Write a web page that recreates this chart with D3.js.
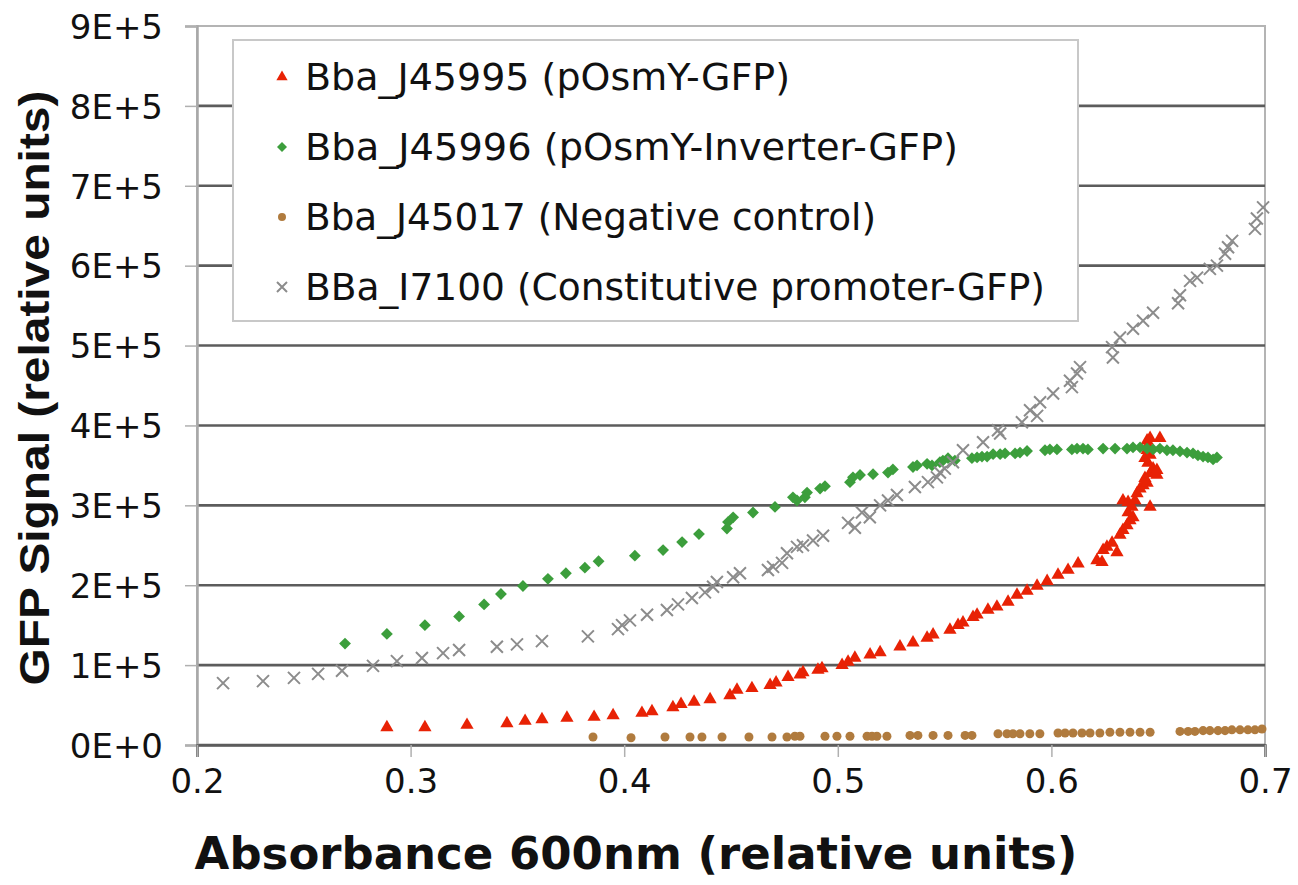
<!DOCTYPE html>
<html><head><meta charset="utf-8">
<script src="https://cdn.jsdelivr.net/npm/d3@7"></script>
<style>body{margin:0;background:#fff}svg{display:block}</style>
</head><body>
<svg id="chart" width="1298" height="885"></svg>
<script>
// ---------- data ----------
const xTickValues = [0.2, 0.3, 0.4, 0.5, 0.6, 0.7];
const xTickLabels = ["0.2", "0.3", "0.4", "0.5", "0.6", "0.7"];
const yTickValues = [0, 1e5, 2e5, 3e5, 4e5, 5e5, 6e5, 7e5, 8e5, 9e5];
const yTickLabels = ["0E+0", "1E+5", "2E+5", "3E+5", "4E+5", "5E+5", "6E+5", "7E+5", "8E+5", "9E+5"];
const xTitle = "Absorbance 600nm (relative units)";
const yTitle = "GFP Signal (relative units)";
const seriesNames = [
  "Bba_J45995 (pOsmY-GFP)",
  "Bba_J45996 (pOsmY-Inverter-GFP)",
  "Bba_J45017 (Negative control)",
  "BBa_I7100 (Constitutive promoter-GFP)"
];

// [absorbance, GFP signal (×1E+5)]
const j45995 = [
  [0.2889,0.22],[0.3067,0.22],[0.3264,0.25],[0.3451,0.27],[0.3536,0.30],[0.3615,0.32],
  [0.3732,0.34],[0.3859,0.35],[0.3948,0.37],[0.4083,0.40],[0.4130,0.42],[0.4228,0.47],
  [0.4266,0.51],[0.4327,0.54],[0.4402,0.57],[0.4495,0.62],[0.4528,0.69],[0.4598,0.71],
  [0.4683,0.75],[0.4711,0.78],[0.4767,0.85],[0.4823,0.88],[0.4837,0.91],[0.4907,0.94],
  [0.4926,0.96],[0.5020,1.00],[0.5048,1.04],[0.5080,1.09],[0.5151,1.13],[0.5198,1.16],
  [0.5291,1.23],[0.5352,1.28],[0.5418,1.34],[0.5446,1.38],[0.5525,1.44],[0.5563,1.50],
  [0.5586,1.53],[0.5633,1.60],[0.5652,1.63],[0.5703,1.69],[0.5745,1.73],[0.5797,1.79],
  [0.5839,1.88],[0.5886,1.93],[0.5933,1.99],[0.5980,2.05],[0.6031,2.13],[0.6078,2.19],
  [0.6125,2.27],[0.6213,2.31],[0.6237,2.29],[0.6242,2.44],[0.6260,2.48],[0.6284,2.53],
  [0.6307,2.41],[0.6321,2.63],[0.6335,2.69],[0.6354,2.75],[0.6368,2.81],[0.6382,2.85],
  [0.6359,2.91],[0.6377,2.98],[0.6335,3.06],[0.6359,3.04],[0.6391,3.06],[0.6401,3.15],
  [0.6415,3.21],[0.6429,3.25],[0.6448,3.28],[0.6462,2.98],[0.6438,3.34],[0.6462,3.40],
  [0.6494,3.38],[0.6476,3.46],[0.6452,3.53],[0.6438,3.59],[0.6462,3.63],[0.6448,3.69],
  [0.6452,3.75],[0.6448,3.81],[0.6508,3.84],[0.6462,3.84],[0.6494,3.44]
];
const j45996 = [
  [0.2693,1.27],[0.2889,1.39],[0.3067,1.50],[0.3227,1.61],[0.3344,1.76],[0.3423,1.89],
  [0.3526,1.99],[0.3643,2.08],[0.3727,2.15],[0.3816,2.22],[0.3880,2.30],[0.4050,2.37],
  [0.4182,2.44],[0.4271,2.54],[0.4350,2.64],[0.4481,2.71],[0.4486,2.79],[0.4510,2.85],
  [0.4603,2.91],[0.4706,2.98],[0.4790,3.10],[0.4809,3.06],[0.4846,3.10],[0.4856,3.16],
  [0.4917,3.21],[0.4940,3.24],[0.5057,3.29],[0.5071,3.35],[0.5104,3.38],[0.5165,3.39],
  [0.5235,3.41],[0.5258,3.45],[0.5352,3.48],[0.5371,3.50],[0.5418,3.52],[0.5441,3.50],
  [0.5478,3.54],[0.5492,3.56],[0.5516,3.59],[0.5548,3.56],[0.5628,3.59],[0.5652,3.60],
  [0.5675,3.61],[0.5699,3.61],[0.5727,3.64],[0.5760,3.64],[0.5783,3.65],[0.5830,3.65],
  [0.5853,3.66],[0.5886,3.68],[0.5970,3.69],[0.5993,3.70],[0.6026,3.70],[0.6096,3.70],
  [0.6120,3.71],[0.6148,3.71],[0.6171,3.70],[0.6242,3.71],[0.6298,3.71],[0.6354,3.71],
  [0.6382,3.725],[0.6415,3.725],[0.6448,3.71],[0.6476,3.70],[0.6508,3.71],[0.6541,3.69],
  [0.6569,3.69],[0.6602,3.675],[0.6635,3.66],[0.6663,3.65],[0.6686,3.625],[0.6710,3.61],
  [0.6733,3.60],[0.6757,3.575],[0.6775,3.60]
];
const j45017 = [
  [0.3854,0.10],[0.4032,0.09],[0.4191,0.10],[0.4308,0.10],[0.4364,0.10],[0.4458,0.10],
  [0.4584,0.10],[0.4692,0.10],[0.4762,0.10],[0.4799,0.11],[0.4823,0.11],[0.4940,0.11],
  [0.4996,0.11],[0.5057,0.11],[0.5137,0.11],[0.5160,0.11],[0.5183,0.11],[0.5230,0.11],
  [0.5338,0.12],[0.5375,0.12],[0.5446,0.12],[0.5516,0.12],[0.5596,0.12],[0.5628,0.12],
  [0.5750,0.14],[0.5792,0.14],[0.5820,0.14],[0.5853,0.14],[0.5899,0.14],[0.5946,0.14],
  [0.6031,0.15],[0.6064,0.15],[0.6101,0.15],[0.6143,0.15],[0.6181,0.15],[0.6227,0.15],
  [0.6274,0.16],[0.6321,0.16],[0.6368,0.16],[0.6415,0.16],[0.6462,0.16],[0.6602,0.17],
  [0.6640,0.17],[0.6672,0.17],[0.6710,0.18],[0.6742,0.18],[0.6780,0.18],[0.6813,0.18],
  [0.6845,0.19],[0.6883,0.19],[0.6920,0.19],[0.6953,0.19],[0.6986,0.20]
];
const i7100 = [
  [0.2122,0.775],[0.2309,0.80],[0.2454,0.84],[0.2567,0.89],[0.2679,0.93],[0.2824,0.99],
  [0.2936,1.05],[0.3053,1.09],[0.3152,1.15],[0.3227,1.19],[0.3404,1.23],[0.3498,1.26],
  [0.3615,1.30],[0.3830,1.36],[0.3971,1.45],[0.3990,1.50],[0.4027,1.56],[0.4107,1.63],
  [0.4200,1.69],[0.4252,1.76],[0.4317,1.84],[0.4378,1.91],[0.4416,1.98],[0.4434,2.04],
  [0.4510,2.10],[0.4542,2.15],[0.4673,2.19],[0.4697,2.23],[0.4739,2.28],[0.4762,2.40],
  [0.4809,2.48],[0.4837,2.50],[0.4884,2.56],[0.4931,2.62],[0.5048,2.78],[0.5080,2.72],
  [0.5113,2.91],[0.5150,2.85],[0.5198,3.00],[0.5235,3.06],[0.5277,3.13],[0.5361,3.23],
  [0.5422,3.29],[0.5464,3.35],[0.5478,3.41],[0.5501,3.46],[0.5539,3.54],[0.5586,3.69],
  [0.5680,3.79],[0.5750,3.94],[0.5760,3.90],[0.5862,4.04],[0.5900,4.19],[0.5933,4.12],
  [0.5947,4.29],[0.6008,4.40],[0.6087,4.56],[0.6096,4.48],[0.6120,4.65],[0.6134,4.73],
  [0.6284,4.98],[0.6288,4.85],[0.6321,5.10],[0.6382,5.21],[0.6429,5.31],[0.6476,5.41],
  [0.6593,5.53],[0.6602,5.63],[0.6649,5.81],[0.6682,5.85],[0.6742,5.96],[0.6775,6.00],
  [0.6813,6.15],[0.6827,6.23],[0.6846,6.31],[0.6953,6.46],[0.6962,6.59],[0.6991,6.73]
];
const seriesColors = ["#e82205", "#3c9e3c", "#b07b3e", "#8c8c8c"];

// ---------- chart ----------
const svg = d3.select("#chart");
const pLeft = 197, pRight = 1265, pTop = 26, pBottom = 745;
const x = d3.scaleLinear().domain([0.2, 0.7]).range([pLeft, pRight]);
const y = d3.scaleLinear().domain([0, 9e5]).range([pBottom, pTop]);
const Y = v => y(v * 1e5);

// border/frame
svg.append("rect").attr("x", pLeft).attr("y", pTop).attr("width", pRight - pLeft).attr("height", pBottom - pTop)
  .attr("fill", "#fff").attr("stroke", "#b4b4b4").attr("stroke-width", 2);

// horizontal gridlines
svg.append("g").selectAll("line").data(yTickValues.slice(0, -1)).join("line")
  .attr("x1", pLeft).attr("x2", pRight).attr("y1", d => y(d)).attr("y2", d => y(d))
  .attr("stroke", "#5c5c5c").attr("stroke-width", 2.6);

// y axis
const yAxis = d3.axisLeft(y).tickValues(yTickValues).tickFormat((d, i) => yTickLabels[i]).tickSize(12).tickPadding(22);
const gy = svg.append("g").attr("transform", `translate(${pLeft},0)`).call(yAxis);
gy.select(".domain").attr("stroke", "#a8a8a8").attr("stroke-width", 2.5);
gy.selectAll(".tick line").attr("stroke", "#b0b0b0").attr("stroke-width", 1.5);
gy.selectAll(".tick text").attr("font-family", "DejaVu Sans, Verdana, sans-serif").attr("font-size", 34)
  .attr("fill", "#111").attr("dy", "0.36em");

// x axis
const xAxis = d3.axisBottom(x).tickValues(xTickValues).tickFormat((d, i) => xTickLabels[i]).tickSize(12).tickPadding(12);
const gx = svg.append("g").attr("transform", `translate(0,${pBottom})`).call(xAxis);
gx.select(".domain").attr("stroke", "#5c5c5c").attr("stroke-width", 2.6);
gx.selectAll(".tick line").attr("stroke", "#b0b0b0").attr("stroke-width", 1.5);
gx.selectAll(".tick text").attr("font-family", "DejaVu Sans, Verdana, sans-serif").attr("font-size", 34)
  .attr("fill", "#111");

// markers
const tri = d3.symbol().type(d3.symbolTriangle).size(76);
const sq = d3.symbol().type(d3.symbolSquare).size(70);
const circ = d3.symbol().type(d3.symbolCircle).size(64);
const crossPath = "M-6,-6L6,6M-6,6L6,-6";

const gData = svg.append("g");
gData.append("g").selectAll("path").data(j45995).join("path")
  .attr("d", tri).attr("fill", seriesColors[0])
  .attr("transform", d => `translate(${x(d[0])},${Y(d[1])})`);
gData.append("g").selectAll("path").data(j45996).join("path")
  .attr("d", sq).attr("fill", seriesColors[1])
  .attr("transform", d => `translate(${x(d[0])},${Y(d[1])}) rotate(45)`);
gData.append("g").selectAll("path").data(j45017).join("path")
  .attr("d", circ).attr("fill", seriesColors[2])
  .attr("transform", d => `translate(${x(d[0])},${Y(d[1])})`);
gData.append("g").selectAll("path").data(i7100).join("path")
  .attr("d", crossPath).attr("stroke", seriesColors[3]).attr("stroke-width", 2).attr("fill", "none")
  .attr("transform", d => `translate(${x(d[0])},${Y(d[1])})`);

// legend
const lg = svg.append("g");
lg.append("rect").attr("x", 233).attr("y", 40).attr("width", 845).attr("height", 281)
  .attr("fill", "#fff").attr("stroke", "#c8c8c8").attr("stroke-width", 2);
const rowY = [77, 147, 217, 287];
const rowLen = [485, 653, 571, 740];
const legendMarks = [
  g => g.append("path").attr("d", d3.symbol().type(d3.symbolTriangle).size(55)).attr("fill", seriesColors[0]),
  g => g.append("path").attr("d", d3.symbol().type(d3.symbolSquare).size(50)).attr("fill", seriesColors[1]).attr("transform", "rotate(45)"),
  g => g.append("path").attr("d", d3.symbol().type(d3.symbolCircle).size(50)).attr("fill", seriesColors[2]),
  g => g.append("path").attr("d", "M-5,-5L5,5M-5,5L5,-5").attr("stroke", seriesColors[3]).attr("stroke-width", 2)
];
seriesNames.forEach((name, i) => {
  const g = lg.append("g").attr("transform", `translate(282,${rowY[i]})`);
  legendMarks[i](g);
  lg.append("text").attr("x", 305).attr("y", rowY[i] + 13).text(name)
    .attr("textLength", rowLen[i]).attr("lengthAdjust", "spacingAndGlyphs")
    .attr("font-family", "DejaVu Sans, Verdana, sans-serif").attr("font-size", 37.5).attr("fill", "#111");
});

// axis titles
svg.append("text").attr("x", 636).attr("y", 869).attr("text-anchor", "middle").text(xTitle)
  .attr("font-family", "DejaVu Sans, Verdana, sans-serif").attr("font-weight", "bold").attr("font-size", 45).attr("fill", "#111");
svg.append("text").attr("transform", "translate(49,388) rotate(-90) scale(1.14,1)").attr("text-anchor", "middle").text(yTitle)
  .attr("font-family", "Liberation Sans, Arial, sans-serif").attr("font-weight", "bold").attr("font-size", 42).attr("fill", "#111");
</script>
</body></html>
